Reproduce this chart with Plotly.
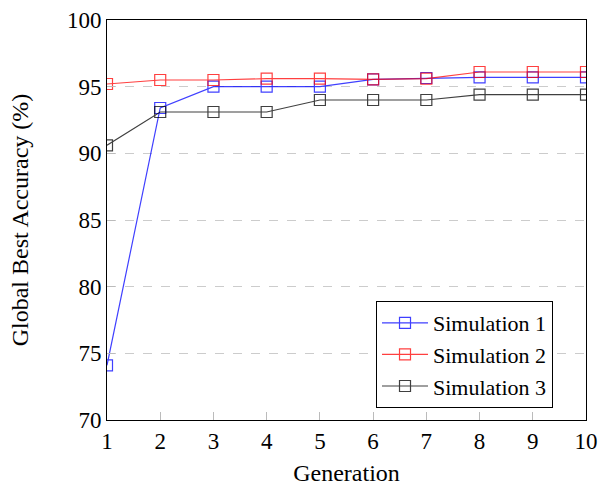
import plotly.graph_objects as go

generations = [1, 2, 3, 4, 5, 6, 7, 8, 9, 10]
sim1 = [74.1, 93.4, 95.0, 95.0, 95.0, 95.55, 95.65, 95.7, 95.7, 95.7]
sim2 = [95.2, 95.5, 95.5, 95.6, 95.6, 95.55, 95.6, 96.1, 96.1, 96.1]
sim3 = [90.6, 93.1, 93.1, 93.1, 94.0, 94.0, 94.0, 94.4, 94.4, 94.4]
names = ["Simulation 1", "Simulation 2", "Simulation 3"]
colors = ["#0000ff", "#ff0000", "#000000"]

fig = go.Figure()
for name, ys, c in zip(names, [sim1, sim2, sim3], colors):
    fig.add_trace(go.Scatter(
        x=generations, y=ys, name=name, mode="lines+markers",
        line=dict(color=c, width=1.2),
        marker=dict(symbol="square-open", size=11, color=c, line=dict(width=1.2)),
        opacity=0.75,
    ))

font = "Liberation Serif, Times New Roman, serif"
fig.update_layout(
    width=602, height=486,
    margin=dict(l=107, r=16, t=20, b=66),
    paper_bgcolor="white", plot_bgcolor="white",
    font=dict(family=font, size=23, color="black"),
    showlegend=True,
    legend=dict(x=0.5616, y=0.03, xanchor="left", yanchor="bottom",
                bgcolor="white", bordercolor="black", borderwidth=1,
                font=dict(size=22, family=font), itemwidth=46,
                tracegroupgap=0),
    xaxis=dict(range=[1, 10], tickvals=generations, showgrid=False,
               showline=True, linecolor="black", linewidth=1, mirror=True,
               ticks="inside", ticklen=8, tickcolor="#bbbbbb",
               title=dict(text="Generation", font=dict(size=24), standoff=14),
               zeroline=False, automargin=False),
    yaxis=dict(range=[70, 100], tickvals=[70, 75, 80, 85, 90, 95, 100],
               showgrid=True, gridcolor="#cccccc", griddash="dash", gridwidth=1,
               showline=True, linecolor="black", linewidth=1, mirror=True,
               ticks="inside", ticklen=8, tickcolor="#bbbbbb",
               title=dict(text="Global Best Accuracy (%)", font=dict(size=24), standoff=31),
               zeroline=False, automargin=False),
)
fig.write_html("out.html", config={"displayModeBar": False},
               post_script="document.body.style.margin='0';document.body.style.overflow='hidden';")
